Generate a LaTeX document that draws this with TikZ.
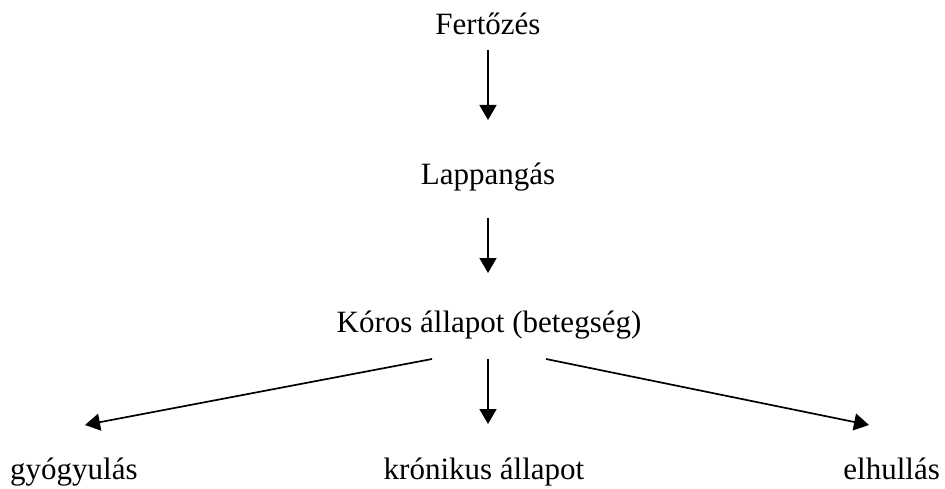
\documentclass[tikz,border=0pt]{standalone}
\usepackage{fontspec}
\setmainfont{Liberation Serif}
\usetikzlibrary{arrows.meta}
\begin{document}
\begin{tikzpicture}[x=1pt,y=1pt,
  lbl/.style={inner sep=0pt,font=\fontsize{31}{36}\selectfont},
  arr/.style={line width=1.7pt,-{Triangle[length=15pt,width=17pt]}}]
\useasboundingbox (0,0) rectangle (945,488);
\node[lbl,anchor=base] (fert) at (488,453) {Fertőzés};
\node[lbl,anchor=base] (lapp) at (488,303) {Lappangás};
\node[lbl,anchor=base] (koros) at (489,156) {Kóros állapot (betegség)};
\node[lbl,anchor=base west] (gyogy) at (10,9) {gyógyulás};
\node[lbl,anchor=base] (kron) at (484,9) {krónikus állapot};
\node[lbl,anchor=base east] (elh) at (940,9) {elhullás};
\coordinate (a1s) at (488,438); \coordinate (a1e) at (488,368);
\coordinate (a2s) at (488,270); \coordinate (a2e) at (488,215);
\coordinate (cs) at (488,129); \coordinate (ce) at (488,64);
\coordinate (ls) at (432,129); \coordinate (le) at (85,63);
\coordinate (rs) at (546,129); \coordinate (re) at (869,63);
\draw[arr] (a1s) -- (a1e);
\draw[arr] (a2s) -- (a2e);
\draw[arr] (cs) -- (ce);
\draw[arr] (ls) -- (le);
\draw[arr] (rs) -- (re);
\end{tikzpicture}
\end{document}
